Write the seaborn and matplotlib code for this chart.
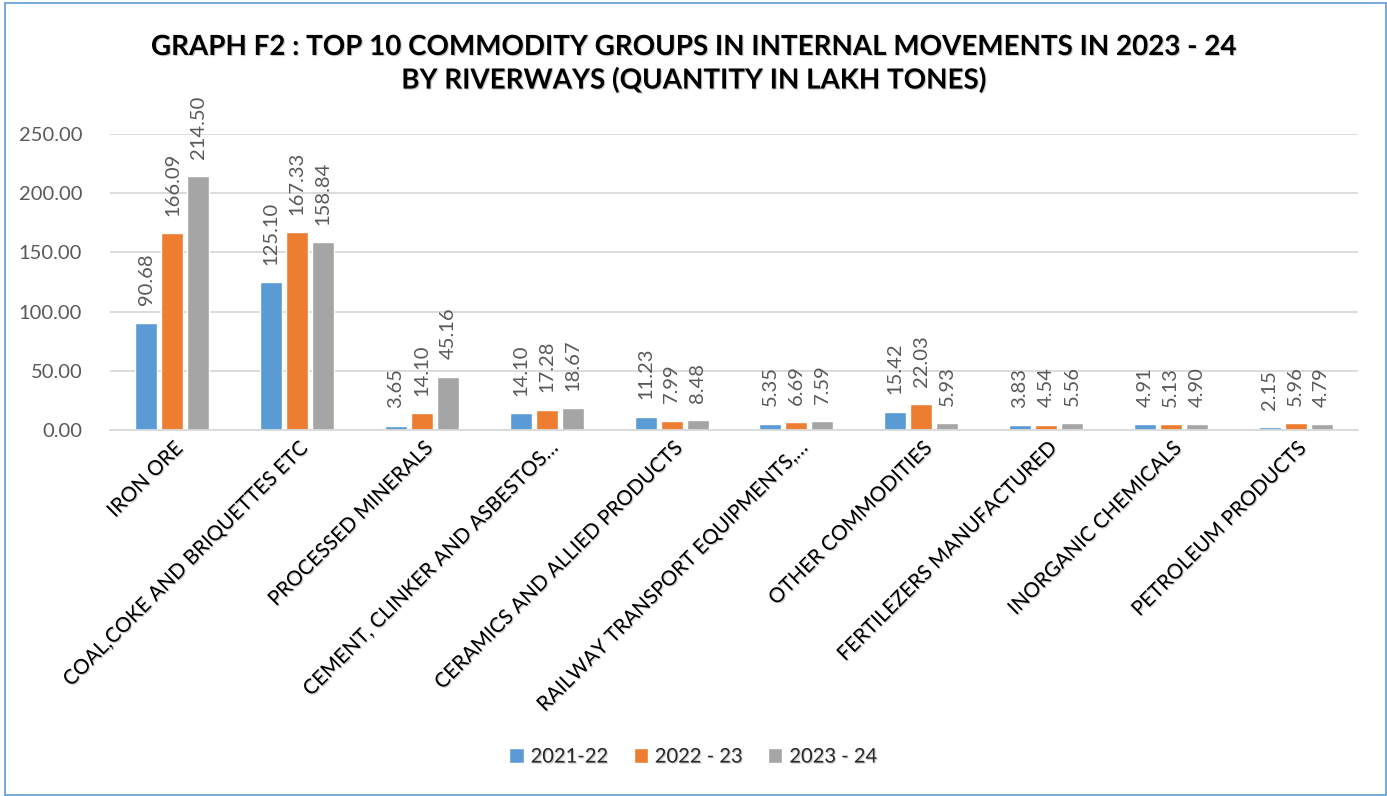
import matplotlib
matplotlib.use("Agg")
import matplotlib.pyplot as plt
import matplotlib.patheffects as pe
import seaborn as sns
import pandas as pd
from matplotlib.patches import Rectangle

categories = ["IRON ORE", "COAL,COKE AND BRIQUETTES ETC", "PROCESSED MINERALS",
              "CEMENT, CLINKER AND ASBESTOS…", "CERAMICS AND ALLIED PRODUCTS",
              "RAILWAY TRANSPORT EQUIPMENTS,…", "OTHER COMMODITIES",
              "FERTILEZERS MANUFACTURED", "INORGANIC CHEMICALS", "PETROLEUM PRODUCTS"]
series_names = ["2021-22", "2022 - 23", "2023 - 24"]
v2021 = [90.68, 125.10, 3.65, 14.10, 11.23, 5.35, 15.42, 3.83, 4.91, 2.15]
v2022 = [166.09, 167.33, 14.10, 17.28, 7.99, 6.69, 22.03, 4.54, 5.13, 5.96]
v2023 = [214.50, 158.84, 45.16, 18.67, 8.48, 7.59, 5.93, 5.56, 4.90, 4.79]
yticks = [0, 50, 100, 150, 200, 250]
colors = ["#5B9BD5", "#ED7D31", "#A5A5A5"]

rows = []
for name, vals in zip(series_names, [v2021, v2022, v2023]):
    for c, v in zip(categories, vals):
        rows.append({"cat": c, "year": name, "val": v})
df = pd.DataFrame(rows)

sns.set_theme(style="white")
plt.rcParams["font.family"] = ["Lato", "DejaVu Sans"]

shadow = [pe.withSimplePatchShadow(offset=(0.8, -0.8), shadow_rgbFace="#999999", alpha=0.5)]

fig = plt.figure(figsize=(13.87, 7.96), dpi=100)
ax = fig.add_axes([110/1387, 1-430/796, (1358-110)/1387, (430-134)/796])

sns.barplot(data=df, x="cat", y="val", hue="year", palette=colors, ax=ax,
            width=0.625, gap=0.15, order=categories, hue_order=series_names,
            legend=True, errorbar=None, saturation=1)

for cont in ax.containers:
    ax.bar_label(cont, fmt="%.2f", rotation=90, padding=12.5, fontsize=14.5,
                 color="#595959", clip_on=False)

ax.set_ylim(0, 250)
ax.set_yticks(yticks)
ax.set_yticklabels([f"{t:.2f}" for t in yticks], fontsize=14.5, color="#595959")
ax.yaxis.grid(True, color="#D9D9D9", linewidth=1.3)
ax.set_axisbelow(True)
for s in ["left", "right", "top"]:
    ax.spines[s].set_visible(False)
ax.spines["bottom"].set_color("#D9D9D9")
ax.spines["bottom"].set_linewidth(1.3)
ax.tick_params(axis="y", length=0, pad=20)
ax.tick_params(axis="x", length=0, pad=6)
ax.set_xticks(range(len(categories)))
ax.set_xticklabels(categories, rotation=45, ha="right", rotation_mode="anchor",
                   fontsize=14.8, color="black")
for t in ax.get_xticklabels():
    t.set_path_effects(shadow)
ax.set_xlabel("")
ax.set_ylabel("")
ax.set_xlim(-0.5, len(categories) - 0.5)

leg = ax.legend(loc="center", bbox_to_anchor=(0.5, 1-757/796), bbox_transform=fig.transFigure,
                ncol=3, frameon=False, fontsize=14.5, handlelength=0.7, handleheight=0.7,
                columnspacing=1.25, handletextpad=0.35)
for t in leg.get_texts():
    t.set_path_effects(shadow)

fig.text(0.5, 1-47/796, "GRAPH F2 : TOP 10 COMMODITY GROUPS IN INTERNAL MOVEMENTS IN 2023 - 24",
         ha="center", va="center", fontsize=20, fontweight="bold", color="black",
         path_effects=shadow)
fig.text(0.5, 1-80/796, "BY RIVERWAYS (QUANTITY IN LAKH TONES)",
         ha="center", va="center", fontsize=20, fontweight="bold", color="black",
         path_effects=shadow)

fig.patches.append(Rectangle((5/1387, 1-795/796), (1386-5)/1387, (795-3)/796,
                             transform=fig.transFigure, fill=False,
                             edgecolor="#5B9BD5", linewidth=1.2))

fig.savefig("out.png", dpi=100)
